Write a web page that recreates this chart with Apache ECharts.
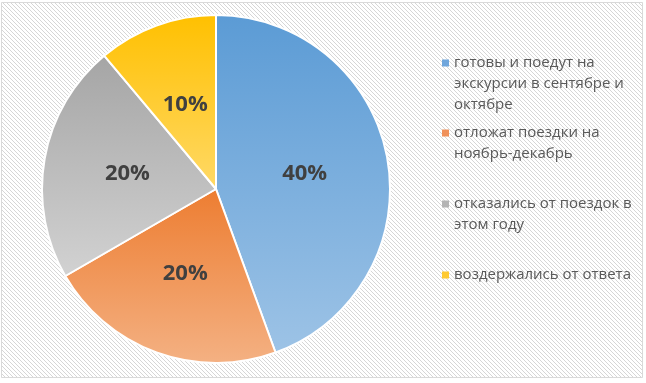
<!DOCTYPE html>
<html>
<head>
<meta charset="utf-8">
<script src="https://cdn.jsdelivr.net/npm/echarts@6/dist/echarts.min.js"></script>
<style>
html,body{margin:0;padding:0;background:#ffffff;}
#chart{width:646px;height:383px;}
</style>
</head>
<body>
<div id="chart"></div>
<script>
// ---- data ----
const categories = [
  'готовы и поедут на\nэкскурсии в сентябре и\nоктябре',
  'отложат поездки на\nноябрь-декабрь',
  'отказались от поездок в\nэтом году',
  'воздержались от ответа'
];
const values = [40, 20, 20, 10];

// ---- styles ----
const topColors = ['#5b9bd5', '#ed7d31', '#a5a5a5', '#ffc000'];
const bottomColors = ['#9dc3e6', '#f4b183', '#d2d2d2', '#ffd966'];
const markerColors = ['#6fa6dc', '#f0915a', '#b4b4b4', '#ffca33'];
const legendFirstLineCenters = [63, 133, 204, 275];
const LH = 21;

// hatch pattern
const pc = document.createElement('canvas');
pc.width = 8; pc.height = 8;
const pctx = pc.getContext('2d');
pctx.fillStyle = '#ffffff';
pctx.fillRect(0, 0, 8, 8);
pctx.fillStyle = '#d6d6d6';
for (let y = 0; y < 8; y++) {
  for (let x = 0; x < 8; x++) {
    if (((x - y) % 4 + 4) % 4 === 0) pctx.fillRect(x, y, 1, 1);
  }
}

const chart = echarts.init(document.getElementById('chart'), null, {renderer: 'canvas'});

const legends = categories.map(function (name, i) {
  const n = name.split('\n').length;
  const H = (n - 1) * LH + 7;
  // square marker at the top of a tall icon box so it sits beside the first line
  const iconPath = 'path://M0,0L7,0L7,7L0,7Z M3,' + H + 'L3.01,' + H;
  const iconTop = legendFirstLineCenters[i] - 3.5;
  const boundTop = Math.min(0, 3.5 - LH / 2);
  return {
    show: true,
    orient: 'vertical',
    left: 442,
    top: iconTop + boundTop,
    padding: 0,
    itemWidth: 7,
    itemHeight: H,
    icon: iconPath,
    symbolKeepAspect: false,
    selectedMode: false,
    data: [{name: name, icon: iconPath, itemStyle: {color: markerColors[i], borderWidth: 0}}],
    textStyle: {
      color: '#595959',
      fontSize: 15,
      fontFamily: 'Open Sans',
      lineHeight: LH
    }
  };
});

const option = {
  animation: false,
  graphic: [{
    type: 'rect',
    z: -10,
    silent: true,
    shape: {x: 1.5, y: 2.5, width: 641, height: 375},
    style: {fill: {image: pc, repeat: 'repeat'}, stroke: '#d9d9d9', lineWidth: 1}
  }],
  legend: legends,
  series: [{
    type: 'pie',
    center: [216, 189],
    radius: [0, 174],
    startAngle: 90,
    clockwise: true,
    avoidLabelOverlap: false,
    label: {
      show: true,
      position: 'inside',
      formatter: '{c}%',
      color: '#404040',
      fontSize: 22,
      fontWeight: 'bold',
      fontFamily: 'Open Sans'
    },
    labelLine: {show: false},
    emphasis: {disabled: true},
    itemStyle: {borderColor: '#ffffff', borderWidth: 2},
    data: categories.map(function (name, i) {
      return {
        name: name,
        value: values[i],
        itemStyle: {
          color: new echarts.graphic.LinearGradient(0, 0, 0, 1, [
            {offset: 0, color: topColors[i]},
            {offset: 1, color: bottomColors[i]}
          ])
        }
      };
    })
  }]
};
chart.setOption(option);
</script>
</body>
</html>
